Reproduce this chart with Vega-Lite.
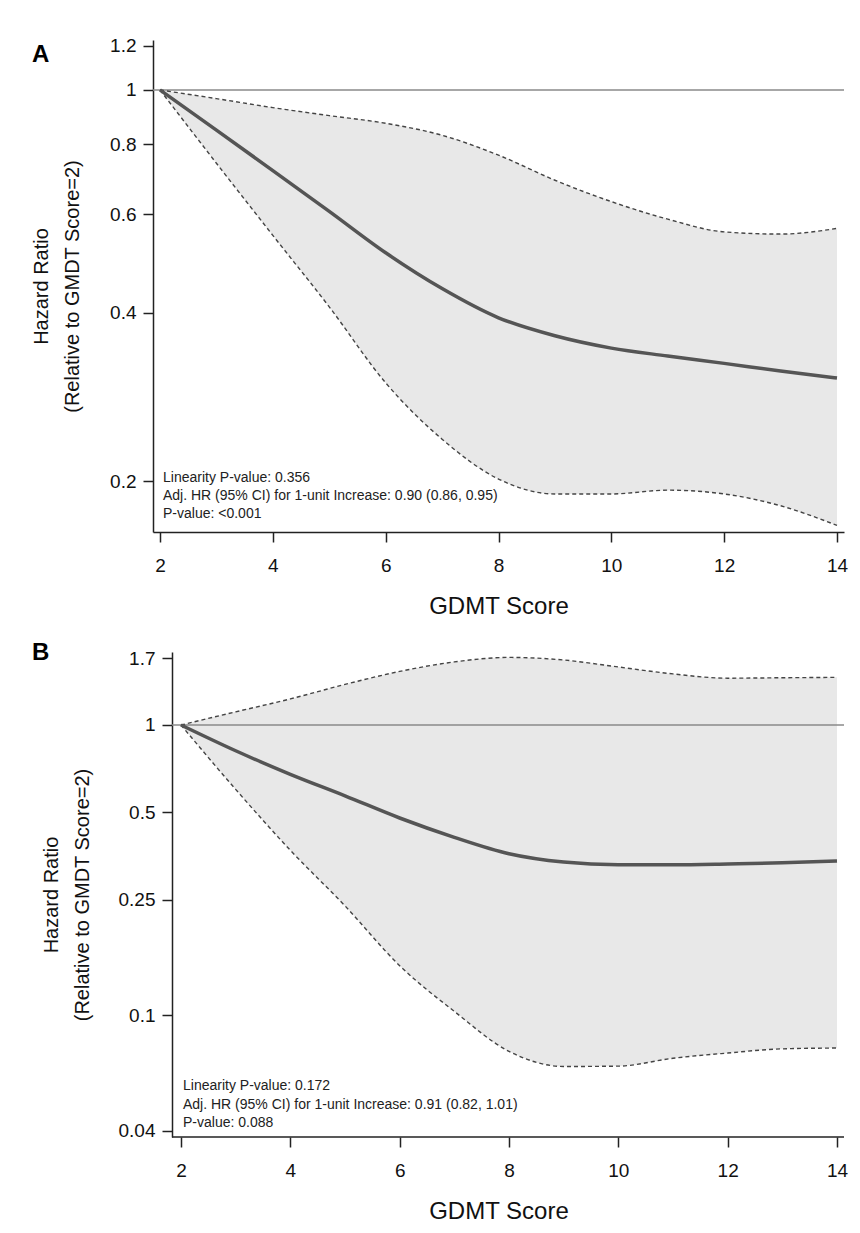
{
  "$schema": "https://vega.github.io/schema/vega-lite/v6.json",
  "background": "white",
  "padding": {"left": 31, "top": 36, "right": 5, "bottom": 5},
  "spacing": 23,
  "config": {
    "font": "Liberation Sans",
    "view": {"stroke": null},
    "axis": {"domainColor": "#222", "domainWidth": 1.5, "tickColor": "#222", "tickWidth": 1.5, "tickSize": 10, "labelFontSize": 19, "labelColor": "#111", "grid": false, "titleColor": "#111", "titleFontWeight": "normal"},
    "title": {"fontSize": 24, "fontWeight": "bold", "anchor": "start", "color": "#000"}
  },
  "datasets": {
    "a": [
      {"score": 2, "est": 1, "lo": 1, "hi": 1},
      {"score": 3, "est": 0.848, "lo": 0.74, "hi": 0.965},
      {"score": 4, "est": 0.718, "lo": 0.55, "hi": 0.93},
      {"score": 5, "est": 0.607, "lo": 0.41, "hi": 0.9},
      {"score": 6, "est": 0.512, "lo": 0.3, "hi": 0.872},
      {"score": 7, "est": 0.442, "lo": 0.238, "hi": 0.83},
      {"score": 8, "est": 0.392, "lo": 0.202, "hi": 0.765},
      {"score": 9, "est": 0.364, "lo": 0.19, "hi": 0.69},
      {"score": 10, "est": 0.346, "lo": 0.19, "hi": 0.632},
      {"score": 11, "est": 0.335, "lo": 0.193, "hi": 0.588},
      {"score": 12, "est": 0.325, "lo": 0.19, "hi": 0.558},
      {"score": 13, "est": 0.315, "lo": 0.181, "hi": 0.553},
      {"score": 14, "est": 0.306, "lo": 0.167, "hi": 0.566}
    ],
    "b": [
      {"score": 2, "est": 1, "lo": 1, "hi": 1},
      {"score": 3, "est": 0.815, "lo": 0.6, "hi": 1.11},
      {"score": 4, "est": 0.676, "lo": 0.37, "hi": 1.23},
      {"score": 5, "est": 0.57, "lo": 0.238, "hi": 1.38},
      {"score": 6, "est": 0.478, "lo": 0.148, "hi": 1.53},
      {"score": 7, "est": 0.41, "lo": 0.103, "hi": 1.65},
      {"score": 8, "est": 0.36, "lo": 0.075, "hi": 1.71},
      {"score": 9, "est": 0.337, "lo": 0.0665, "hi": 1.675},
      {"score": 10, "est": 0.33, "lo": 0.0667, "hi": 1.585},
      {"score": 11, "est": 0.33, "lo": 0.071, "hi": 1.5},
      {"score": 12, "est": 0.332, "lo": 0.074, "hi": 1.45},
      {"score": 13, "est": 0.335, "lo": 0.0765, "hi": 1.455},
      {"score": 14, "est": 0.34, "lo": 0.077, "hi": 1.46}
    ],
    "ta": [
      {"score": 2, "hr": 0.2028, "label": "Linearity P-value: 0.356"},
      {"score": 2, "hr": 0.1884, "label": "Adj. HR (95% CI) for 1-unit Increase: 0.90 (0.86, 0.95)"},
      {"score": 2, "hr": 0.1749, "label": "P-value: <0.001"}
    ],
    "tb": [
      {"score": 2, "hr": 0.0569, "label": "Linearity P-value: 0.172"},
      {"score": 2, "hr": 0.0489, "label": "Adj. HR (95% CI) for 1-unit Increase: 0.91 (0.82, 1.01)"},
      {"score": 2, "hr": 0.0424, "label": "P-value: 0.088"}
    ],
    "ra": [{"x1": 1.876, "x2": 14.124, "hr": 1}],
    "rb": [{"x1": 1.835, "x2": 14.128, "hr": 1}],
    "axb": [{"x1": 1.835, "x2": 14.128, "hr": 0.038}]
  },
  "vconcat": [
    {
      "width": 691,
      "height": 492,
      "title": {"text": "A", "frame": "group", "dx": -121, "dy": 30, "offset": 0},
      "encoding": {
        "x": {"type": "quantitative", "scale": {"domain": [1.876, 14.124], "nice": false, "zero": false},
              "axis": {"values": [2, 4, 6, 8, 10, 12, 14], "title": "GDMT Score", "titleFontSize": 24, "labelPadding": 14, "titlePadding": 19}},
        "y": {"type": "quantitative", "scale": {"type": "log", "domain": [0.1625, 1.228], "nice": false},
              "axis": {"values": [0.2, 0.4, 0.6, 0.8, 1, 1.2], "format": "~g", "labelPadding": 7, "title": ["Hazard Ratio", "(Relative to GMDT Score=2)"], "titleFontSize": 20, "titleLineHeight": 31, "titlePadding": 27}}
      },
      "layer": [
        {"data": {"name": "a"}, "mark": {"type": "area", "color": "#e8e8e8", "interpolate": "monotone"},
         "encoding": {"x": {"field": "score"}, "y": {"field": "lo"}, "y2": {"field": "hi"}}},
        {"data": {"name": "ra"}, "mark": {"type": "rule", "color": "#8a8a8a", "strokeWidth": 1.6},
         "encoding": {"x": {"field": "x1"}, "x2": {"field": "x2"}, "y": {"field": "hr"}}},
        {"data": {"name": "a"}, "mark": {"type": "line", "color": "#444", "strokeWidth": 1.4, "strokeDash": [4, 3], "interpolate": "monotone"},
         "encoding": {"x": {"field": "score"}, "y": {"field": "lo"}}},
        {"data": {"name": "a"}, "mark": {"type": "line", "color": "#444", "strokeWidth": 1.4, "strokeDash": [4, 3], "interpolate": "monotone"},
         "encoding": {"x": {"field": "score"}, "y": {"field": "hi"}}},
        {"data": {"name": "a"}, "mark": {"type": "line", "color": "#555", "strokeWidth": 3.5, "interpolate": "monotone"},
         "encoding": {"x": {"field": "score"}, "y": {"field": "est"}}},
        {"data": {"name": "ta"}, "mark": {"type": "text", "align": "left", "baseline": "middle", "dx": 3, "fontSize": 14, "color": "#222"},
         "encoding": {"x": {"field": "score"}, "y": {"field": "hr"}, "text": {"field": "label"}}}
      ]
    },
    {
      "width": 691,
      "height": 485,
      "title": {"text": "B", "frame": "group", "dx": -121, "dy": 16, "offset": 0},
      "encoding": {
        "x": {"type": "quantitative", "scale": {"domain": [1.488, 14.128], "nice": false, "zero": false},
              "axis": {"values": [2, 4, 6, 8, 10, 12, 14], "domain": false, "title": "GDMT Score", "titleFontSize": 24, "labelPadding": 14, "titlePadding": 19}},
        "y": {"type": "quantitative", "scale": {"type": "log", "domain": [0.038, 1.785], "nice": false},
              "axis": {"values": [0.04, 0.1, 0.25, 0.5, 1, 1.7], "format": "~g", "offset": -19, "labelPadding": 7, "title": ["Hazard Ratio", "(Relative to GMDT Score=2)"], "titleFontSize": 20, "titleLineHeight": 31, "titlePadding": 26}}
      },
      "layer": [
        {"data": {"name": "b"}, "mark": {"type": "area", "color": "#e8e8e8", "interpolate": "monotone"},
         "encoding": {"x": {"field": "score"}, "y": {"field": "lo"}, "y2": {"field": "hi"}}},
        {"data": {"name": "rb"}, "mark": {"type": "rule", "color": "#8a8a8a", "strokeWidth": 1.6},
         "encoding": {"x": {"field": "x1"}, "x2": {"field": "x2"}, "y": {"field": "hr"}}},
        {"data": {"name": "axb"}, "mark": {"type": "rule", "color": "#222", "strokeWidth": 1.5},
         "encoding": {"x": {"field": "x1"}, "x2": {"field": "x2"}, "y": {"field": "hr"}}},
        {"data": {"name": "b"}, "mark": {"type": "line", "color": "#444", "strokeWidth": 1.4, "strokeDash": [4, 3], "interpolate": "monotone"},
         "encoding": {"x": {"field": "score"}, "y": {"field": "lo"}}},
        {"data": {"name": "b"}, "mark": {"type": "line", "color": "#444", "strokeWidth": 1.4, "strokeDash": [4, 3], "interpolate": "monotone"},
         "encoding": {"x": {"field": "score"}, "y": {"field": "hi"}}},
        {"data": {"name": "b"}, "mark": {"type": "line", "color": "#555", "strokeWidth": 3.5, "interpolate": "monotone"},
         "encoding": {"x": {"field": "score"}, "y": {"field": "est"}}},
        {"data": {"name": "tb"}, "mark": {"type": "text", "align": "left", "baseline": "middle", "dx": 2, "fontSize": 14, "color": "#222"},
         "encoding": {"x": {"field": "score"}, "y": {"field": "hr"}, "text": {"field": "label"}}}
      ]
    }
  ]
}
